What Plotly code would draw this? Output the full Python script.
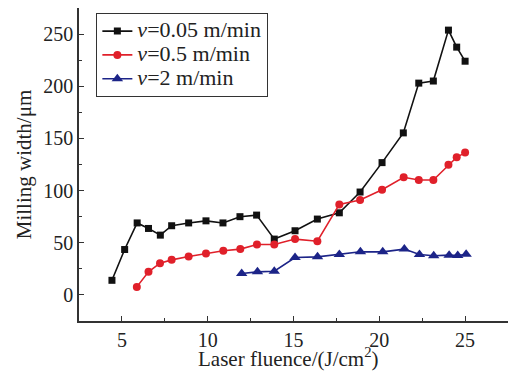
import plotly.graph_objects as go

# Data
x_005 = [4.42, 5.16, 5.89, 6.55, 7.24, 7.9, 8.89, 9.9, 10.89, 11.88, 12.85, 13.88,
         15.09, 16.39, 17.67, 18.88, 20.16, 21.4, 22.3, 23.15, 24.03, 24.51, 25.0]
y_005 = [14, 43.5, 69, 63.7, 57.3, 66.3, 69, 71, 69, 75, 76.5, 53.5,
         61.5, 72.7, 78.7, 98.6, 126.8, 155.3, 203, 205, 253.8, 237.5, 224]

x_05 = [5.87, 6.55, 7.22, 7.9, 8.89, 9.9, 10.91, 11.9, 12.87, 13.88, 15.09, 16.39,
        17.67, 18.88, 20.16, 21.42, 22.3, 23.15, 24.03, 24.51, 25.0]
y_05 = [7.7, 22.1, 30.4, 33.6, 36.8, 39.7, 42.3, 43.9, 48.3, 48.3, 53.5, 51.5,
        86.7, 90.9, 100.8, 112.7, 110.1, 110.1, 124.8, 131.9, 136.4]

x_2 = [11.98, 12.9, 13.88, 15.09, 16.4, 17.67, 18.9, 20.2, 21.46, 22.34, 23.17,
       24.07, 24.57, 25.06]
y_2 = [20.5, 22.1, 22.7, 35.9, 36.5, 38.7, 41.3, 41.3, 43.9, 38.7, 37.5, 38.1,
       37.8, 39]

names = ["<i>v</i>=0.05 m/min", "<i>v</i>=0.5 m/min", "<i>v</i>=2 m/min"]
x_ticks = [5, 10, 15, 20, 25]
y_ticks = [0, 50, 100, 150, 200, 250]
x_title = "Laser fluence/(J/cm<sup>2</sup>)"
y_title = "Milling width/μm"

FONT = "Liberation Serif, Times New Roman, serif"


def big(s):
    return '<span style="font-size:22px">' + s + '</span>'


fig = go.Figure()
fig.add_trace(go.Scatter(x=x_005, y=y_005, mode="lines+markers", name=big(names[0]),
                         line=dict(color="#111111", width=1.6),
                         marker=dict(symbol="square", size=7, color="#111111")))
fig.add_trace(go.Scatter(x=x_05, y=y_05, mode="lines+markers", name=big(names[1]),
                         line=dict(color="#e0202a", width=1.6),
                         marker=dict(symbol="circle", size=8, color="#e0202a")))
fig.add_trace(go.Scatter(x=x_2, y=y_2, mode="lines+markers", name=big(names[2]),
                         line=dict(color="#1c2488", width=1.6),
                         marker=dict(symbol="triangle-up", size=10, color="#1c2488")))

axis_common = dict(showgrid=False, zeroline=False, showline=True, automargin=False,
                   linecolor="#333333", linewidth=1.5, ticks="inside",
                   ticklen=5, tickwidth=1.2, tickcolor="#333333",
                   tickfont=dict(family=FONT, size=20, color="#222222"))

fig.update_xaxes(range=[2.5, 27.5], tickvals=x_ticks,
                 minor=dict(dtick=2.5, tick0=2.5, ticks="inside", ticklen=3,
                            tickcolor="#333333", tickwidth=1.1),
                 **axis_common)
fig.update_yaxes(range=[-25, 275], tickvals=y_ticks,
                 minor=dict(dtick=25, tick0=0, ticks="inside", ticklen=3,
                            tickcolor="#333333", tickwidth=1.1),
                 title=dict(text=y_title,
                            font=dict(family=FONT, size=21, color="#222222"),
                            standoff=6),
                 **axis_common)

fig.add_annotation(text=x_title, xref="paper", yref="paper", x=0.488, y=-0.166,
                   xanchor="center", yanchor="bottom", showarrow=False,
                   font=dict(family=FONT, size=21, color="#222222"))

fig.update_layout(
    width=509, height=372,
    margin=dict(l=79, r=1, t=8, b=51),
    paper_bgcolor="white", plot_bgcolor="white",
    font=dict(family=FONT, size=21, color="#222222"),
    legend=dict(x=0.04, y=0.984, xanchor="left", yanchor="top",
                bordercolor="#333333", borderwidth=1.2, bgcolor="white",
                font=dict(family=FONT, size=16, color="#222222"),
                tracegroupgap=0, itemwidth=30),
    showlegend=True,
)

fig.write_html("out.html", config={"displayModeBar": False},
               post_script="document.body.style.margin='0';document.body.style.padding='0';")
